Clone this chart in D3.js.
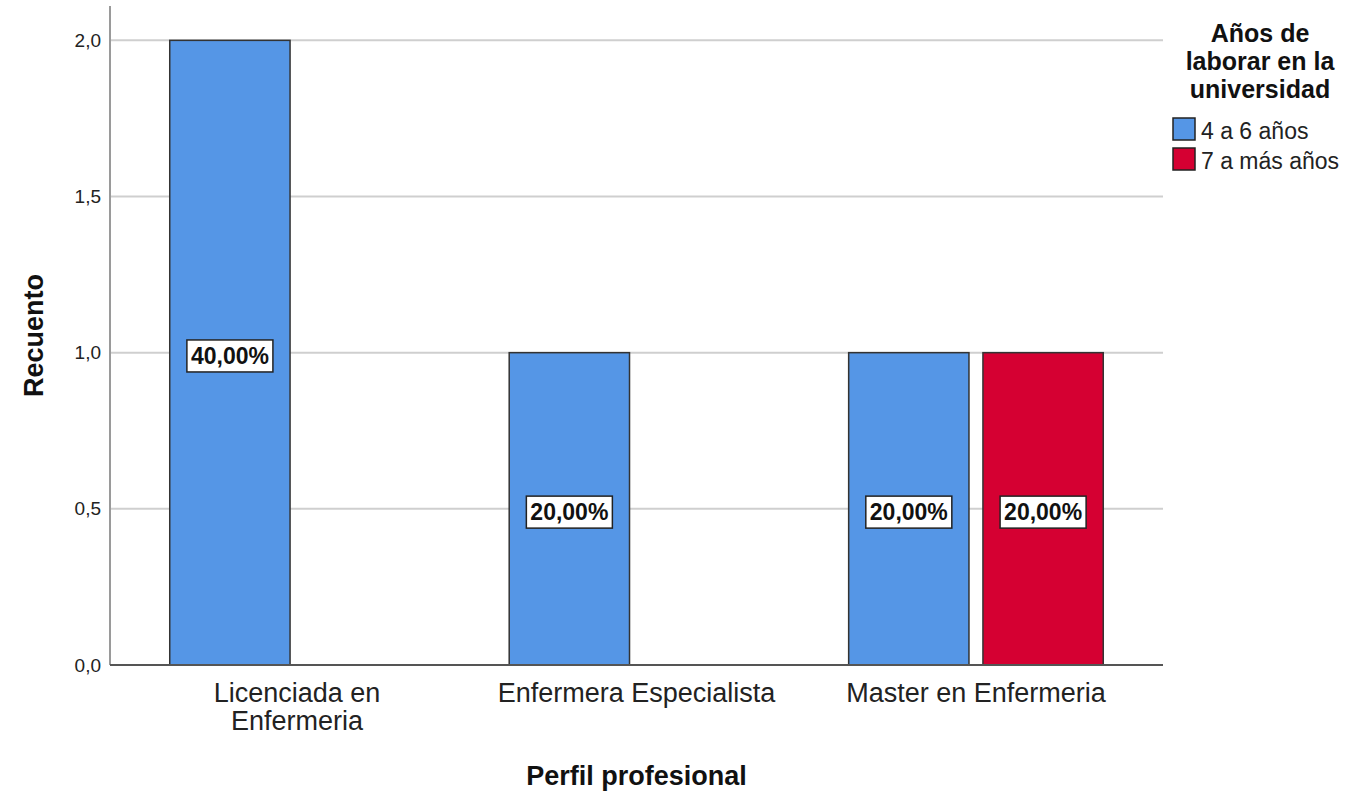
<!DOCTYPE html>
<html>
<head>
<meta charset="utf-8">
<script src="https://cdn.jsdelivr.net/npm/d3@7"></script>
<style>
  body { margin: 0; background: #fff; }
  svg { display: block; font-family: "Liberation Sans", Arial, sans-serif; }
</style>
</head>
<body>
<svg id="chart" width="1354" height="795"></svg>
<script>
const width = 1354, height = 795;

// data
const categories = ["Licenciada en Enfermeria", "Enfermera Especialista", "Master en Enfermeria"];
const categoryLines = [["Licenciada en", "Enfermeria"], ["Enfermera Especialista"], ["Master en Enfermeria"]];
const series = ["4 a 6 años", "7 a más años"];
const seriesColors = ["#5596e6", "#d50032"];
const counts4a6 = [2, 1, 1];
const counts7mas = [0, 0, 1];
const pct4a6 = ["40,00%", "20,00%", "20,00%"];
const pct7mas = ["", "", "20,00%"];
const yTicks = [0, 0.5, 1, 1.5, 2];
const legendTitle = ["Años de", "laborar en la", "universidad"];

const plot = { left: 110, right: 1163, top: 6, bottom: 665 };

const svg = d3.select("#chart");

const x = d3.scaleBand().domain(categories).range([plot.left, plot.right])
  .paddingInner(0.25).paddingOuter(0.176);
const xSub = d3.scaleBand().domain(series).range([0, x.bandwidth()]).paddingInner(0.104);
const y = d3.scaleLinear().domain([0, 2.11]).range([plot.bottom, plot.top]);

const fmt = v => d3.format(".1f")(v).replace(".", ",");

// grid lines
svg.append("g").selectAll("line").data(yTicks.filter(d => d > 0)).join("line")
  .attr("x1", plot.left).attr("x2", plot.right)
  .attr("y1", d => y(d)).attr("y2", d => y(d))
  .attr("stroke", "#cfcfcf").attr("stroke-width", 2);

// y axis (no tick marks, SPSS style)
const yAxis = svg.append("g").attr("transform", `translate(${plot.left},0)`)
  .call(d3.axisLeft(y).tickValues(yTicks).tickFormat(fmt).tickSize(0).tickPadding(9));
yAxis.select(".domain").remove();
yAxis.selectAll("text").attr("font-size", 19).attr("fill", "#222")
  .attr("font-family", "Liberation Sans, Arial, sans-serif");
svg.append("line").attr("x1", plot.left).attr("x2", plot.left)
  .attr("y1", plot.top).attr("y2", plot.bottom)
  .attr("stroke", "#9a9a9a").attr("stroke-width", 2);

// bars
const rows = categories.map((c, i) => ({
  cat: c,
  vals: [
    { s: series[0], v: counts4a6[i], pct: pct4a6[i], color: seriesColors[0] },
    { s: series[1], v: counts7mas[i], pct: pct7mas[i], color: seriesColors[1] }
  ].filter(d => d.v > 0)
}));

const groups = svg.append("g").selectAll("g").data(rows).join("g")
  .attr("transform", d => `translate(${x(d.cat)},0)`);

groups.selectAll("rect").data(d => d.vals).join("rect")
  .attr("x", d => xSub(d.s)).attr("width", xSub.bandwidth())
  .attr("y", d => y(d.v)).attr("height", d => y(0) - y(d.v))
  .attr("fill", d => d.color).attr("stroke", "#333").attr("stroke-width", 1.5);

// x axis line
svg.append("line").attr("x1", plot.left).attr("x2", plot.right)
  .attr("y1", plot.bottom).attr("y2", plot.bottom)
  .attr("stroke", "#555").attr("stroke-width", 2);

// value labels in white boxes
const labels = groups.selectAll("g.lbl").data(d => d.vals).join("g").attr("class", "lbl")
  .attr("transform", d => `translate(${xSub(d.s) + xSub.bandwidth() / 2},${y(d.v / 2) + 3})`);
labels.each(function(d) {
  const g = d3.select(this);
  const t = g.append("text").attr("text-anchor", "middle").attr("dy", "0.36em")
    .attr("font-size", 23).attr("font-weight", "bold").attr("fill", "#111").text(d.pct);
  const bb = t.node().getBBox();
  g.insert("rect", "text")
    .attr("x", bb.x - 4).attr("y", bb.y - 3)
    .attr("width", bb.width + 8).attr("height", bb.height + 6)
    .attr("fill", "#fff").attr("stroke", "#222").attr("stroke-width", 1.5);
});

// category labels
const xt = svg.append("g").selectAll("text").data(categories).join("text")
  .attr("x", d => x(d) + x.bandwidth() / 2).attr("y", 702)
  .attr("text-anchor", "middle").attr("font-size", 27).attr("fill", "#222");
xt.each(function(d, i) {
  d3.select(this).selectAll("tspan").data(categoryLines[i]).join("tspan")
    .attr("x", x(d) + x.bandwidth() / 2).attr("dy", (l, j) => j === 0 ? 0 : 28).text(l => l);
});

// axis titles
svg.append("text").attr("x", (plot.left + plot.right) / 2).attr("y", 785)
  .attr("text-anchor", "middle").attr("font-size", 27).attr("font-weight", "bold")
  .attr("fill", "#111").text("Perfil profesional");
svg.append("text").attr("transform", `translate(43,${(plot.top + plot.bottom) / 2}) rotate(-90)`)
  .attr("text-anchor", "middle").attr("font-size", 27).attr("font-weight", "bold")
  .attr("fill", "#111").text("Recuento");

// legend
const legend = svg.append("g");
legend.selectAll("text.title").data(legendTitle).join("text").attr("class", "title")
  .attr("x", 1260).attr("y", (d, i) => 42 + i * 28)
  .attr("text-anchor", "middle").attr("font-size", 25).attr("font-weight", "bold")
  .attr("fill", "#111").text(d => d);
const items = legend.selectAll("g.item").data(series).join("g").attr("class", "item")
  .attr("transform", (d, i) => `translate(1173,${118 + i * 30})`);
items.append("rect").attr("width", 22).attr("height", 22)
  .attr("fill", (d, i) => seriesColors[i]).attr("stroke", "#222").attr("stroke-width", 1.5);
items.append("text").attr("x", 28).attr("y", 21).attr("font-size", 23)
  .attr("fill", "#222").text(d => d);
</script>
</body>
</html>
